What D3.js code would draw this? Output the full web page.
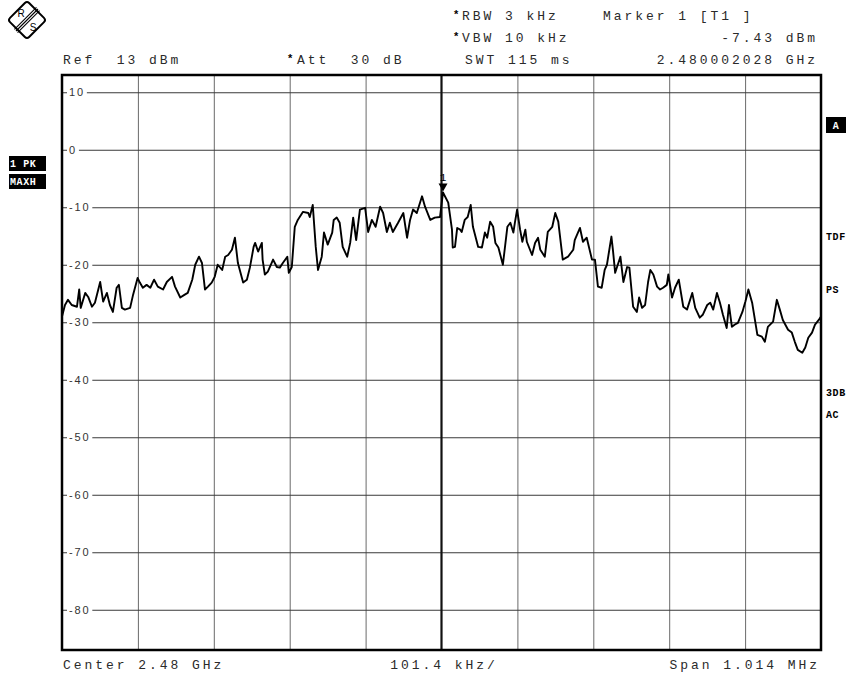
<!DOCTYPE html>
<html>
<head>
<meta charset="utf-8">
<script src="https://cdn.jsdelivr.net/npm/d3@7/dist/d3.min.js"></script>
<style>
  html, body { margin: 0; padding: 0; background: #fff; }
  svg { display: block; }
  text { white-space: pre; }
  .mono { font-family: "Liberation Mono", "Courier New", monospace; font-size: 13px; fill: #2a2a2a; letter-spacing: 2.95px; }
  .tick { font-family: "Liberation Sans", Arial, sans-serif; font-size: 11px; fill: #333; letter-spacing: 1.8px; }
  .side { font-family: "Liberation Mono", "Courier New", monospace; font-size: 10px; font-weight: bold; letter-spacing: 0.6px; }
</style>
</head>
<body>
<svg id="chart" width="851" height="676"></svg>
<script>
// ---- data (frequency offset from centre in kHz, level in dBm) ----
const traceFreq = [-507,-507,-503,-499,-494,-487,-484,-482,-476,-472,-467,-463,-456,-452,-447,-443,-439,-434,-431,-427,-423,-416,-412,-406,-403,-399,-394,-389,-384,-379,-372,-367,-360,-356,-349,-343,-339,-333,-329,-324,-320,-316,-312,-307,-303,-299,-293,-289,-285,-280,-276,-272,-265,-260,-256,-251,
-249,-245,-240,-239,-236,-232,-225,-220,-216,-212,-206,-204,-200,-196,-192,-185,-178,-176,-172,-168,-165,-160,-157,-152,-146,-144,-140,-136,-132,-126,-122,-118,-114,-109,-102,-98,-93,-88,-82,-78,-73,-69,-65,-58,-51,-46,-42,-38,-33,-26,-22,-15,-9,-2,2,
9,14,15,18,21,25,27,31,35,39,42,49,54,58,61,65,69,72,76,82,88,92,96,98,101,105,108,112,114,121,125,129,132,138,142,148,152,156,162,169,176,178,185,189,194,201,205,209,214,218,221,227,229,232,239,243,248,251,
256,261,264,268,272,276,279,283,288,292,296,301,303,308,312,317,323,328,335,339,345,349,355,359,363,368,372,376,381,384,388,392,396,402,406,410,415,422,428,432,436,443,448,452,456,463,468,472,476,482,486,490,495,499,504,507];

const traceLevel = [-21.2,-29.0,-27.0,-26.1,-27.0,-27.3,-24.3,-27.5,-24.9,-25.6,-27.3,-26.6,-23.0,-26.4,-24.9,-27.0,-28.2,-24.0,-23.5,-27.5,-27.8,-27.5,-25.2,-22.3,-23.1,-24.0,-23.5,-24.0,-22.6,-23.8,-24.3,-23.0,-22.1,-23.8,-25.7,-25.2,-24.9,-22.6,-20.0,-18.6,-19.7,-24.3,-23.8,-23.1,-22.1,-20.0,-20.9,-18.6,-18.3,-17.4,-15.3,-19.7,-23.1,-22.6,-20.5,-16.9,
-16.2,-17.7,-16.2,-19.1,-21.7,-21.2,-19.1,-20.4,-20.5,-19.7,-18.6,-21.4,-20.4,-13.4,-12.2,-10.8,-11.0,-11.7,-9.6,-16.9,-20.9,-18.6,-14.4,-16.5,-14.4,-12.2,-11.8,-12.7,-16.9,-18.6,-16.2,-11.8,-15.7,-10.4,-10.1,-14.3,-12.2,-13.4,-9.9,-11.0,-14.3,-12.7,-14.3,-12.7,-11.0,-15.3,-12.2,-10.4,-11.0,-8.1,-9.9,-12.2,-11.8,-11.7,-7.43,
-9.2,-13.9,-17.0,-16.9,-13.6,-13.9,-14.3,-12.2,-11.7,-9.6,-13.4,-16.9,-17.0,-14.4,-15.3,-12.5,-13.4,-16.2,-17.0,-20.0,-13.4,-12.7,-14.4,-12.7,-10.4,-13.9,-16.0,-13.9,-16.0,-18.3,-16.2,-15.3,-17.4,-18.6,-14.3,-13.4,-11.0,-12.5,-19.1,-18.6,-17.4,-15.7,-13.6,-16.0,-15.3,-19.1,-19.1,-23.8,-24.0,-20.9,-20.0,-15.1,-17.4,-21.4,-18.6,-23.0,-20.4,-20.5,
-27.3,-28.2,-25.7,-27.5,-27.0,-23.0,-20.9,-21.7,-23.8,-24.3,-24.0,-23.5,-21.7,-25.7,-24.0,-22.6,-27.3,-27.8,-24.9,-27.5,-29.2,-28.7,-27.0,-26.6,-27.8,-24.9,-26.6,-28.7,-31.0,-27.0,-30.8,-30.4,-30.1,-28.2,-26.4,-24.3,-26.6,-32.2,-32.5,-33.4,-30.8,-29.9,-26.1,-27.8,-29.6,-31.3,-31.8,-33.4,-34.8,-35.3,-34.4,-32.7,-31.8,-30.4,-29.6,-29.0];

const levelTicks = [10, 0, -10, -20, -30, -40, -50, -60, -70, -80];
const freqGrid = [-405.6, -304.2, -202.8, -101.4, 0, 101.4, 202.8, 304.2, 405.6];
const markerFreq = 2.028;
const markerLevel = -7.43;

const headerLeft = [
  { star: false, text: "Ref  13 dBm", x: 63 },
  { star: true,  text: "Att  30 dB", x: 297 }
];
const headerRight = [
  { star: true,  text: "RBW 3 kHz",  x: 462, line: 0 },
  { star: true,  text: "VBW 10 kHz", x: 462, line: 1 },
  { star: false, text: "SWT 115 ms", x: 465, line: 2 }
];
const markerInfo = ["Marker 1 [T1 ]", "-7.43 dBm", "2.480002028 GHz"];
const footer = ["Center 2.48 GHz", "101.4 kHz/", "Span 1.014 MHz"];
const leftBadges = ["1 PK", "MAXH"];
const rightLabels = [
  { text: "TDF", y: 240 },
  { text: "PS",  y: 293 },
  { text: "3DB", y: 396 },
  { text: "AC",  y: 418 }
];

// ---- layout ----
const svg = d3.select("#chart");
const L = 62, R = 821, T = 75, B = 650;

const x = d3.scaleLinear().domain([-507, 507]).range([L, R]);
const y = d3.scaleLinear().domain([13, -87]).range([T, B]);

// vertical grid via axis
svg.append("g")
  .attr("transform", `translate(0,${B})`)
  .call(d3.axisBottom(x).tickValues(freqGrid.filter(f => f !== 0)).tickSize(-(B - T)).tickFormat(""))
  .call(g => g.select(".domain").remove())
  .call(g => g.selectAll("line").attr("stroke", "#6a6a6a").attr("stroke-width", 1));

// horizontal grid via axis
svg.append("g")
  .attr("transform", `translate(${L},0)`)
  .call(d3.axisRight(y).tickValues(levelTicks).tickSize(R - L).tickFormat(""))
  .call(g => g.select(".domain").remove())
  .call(g => g.selectAll("line").attr("stroke", "#3a3a3a").attr("stroke-width", 1));

// tick labels with white background
const tl = svg.append("g").selectAll("g").data(levelTicks).join("g")
  .attr("transform", d => `translate(69,${y(d)})`);
tl.each(function(d) {
  const g = d3.select(this);
  const t = g.append("text").attr("class", "tick").attr("x", 0).attr("dy", "0.36em").text(d);
  const w = t.node().getComputedTextLength();
  g.insert("rect", "text").attr("x", -2).attr("y", -6).attr("width", w + 4).attr("height", 12).attr("fill", "#fff");
});

// centre line (heavy)
svg.append("line")
  .attr("x1", x(0)).attr("x2", x(0)).attr("y1", T).attr("y2", B)
  .attr("stroke", "#111").attr("stroke-width", 2.2);

// trace
svg.append("clipPath").attr("id", "clip").append("rect")
  .attr("x", L).attr("y", T).attr("width", R - L).attr("height", B - T);
const pts = traceFreq.map((f, i) => [f, traceLevel[i]]);
svg.append("path")
  .attr("clip-path", "url(#clip)")
  .attr("d", d3.line().x(d => x(d[0])).y(d => y(d[1]))(pts))
  .attr("fill", "none").attr("stroke", "#000").attr("stroke-width", 1.9)
  .attr("stroke-linejoin", "round");

// marker
const mx = x(markerFreq), my = y(markerLevel);
svg.append("path")
  .attr("d", `M${mx - 4.5},${my - 9} L${mx + 4.5},${my - 9} L${mx},${my - 1} Z`)
  .attr("fill", "#000");
svg.append("text").attr("x", mx).attr("y", my - 11).attr("text-anchor", "middle")
  .style("font-family", "Liberation Mono, monospace").style("font-size", "11px").attr("fill", "#000").text("1");

// frame
svg.append("rect").attr("x", L).attr("y", T).attr("width", R - L).attr("height", B - T)
  .attr("fill", "none").attr("stroke", "#000").attr("stroke-width", 2.5);

// header
const lineY = [20, 42, 64];
headerLeft.forEach(h => {
  if (h.star) svg.append("text").attr("x", h.x - 9).attr("y", lineY[2] - 2).attr("font-weight", "bold")
    .style("font-family", "Liberation Sans, Arial").style("font-size", "11px").attr("fill", "#000").text("*");
  svg.append("text").attr("class", "mono").attr("x", h.x).attr("y", lineY[2]).text(h.text);
});
headerRight.forEach(h => {
  if (h.star) svg.append("text").attr("x", h.x - 8).attr("y", lineY[h.line] - 2).attr("font-weight", "bold")
    .style("font-family", "Liberation Sans, Arial").style("font-size", "11px").attr("fill", "#000").text("*");
  svg.append("text").attr("class", "mono").attr("x", h.x).attr("y", lineY[h.line]).text(h.text);
});
svg.append("text").attr("class", "mono").attr("x", 603).attr("y", lineY[0]).text(markerInfo[0]);
svg.append("text").attr("class", "mono").attr("x", 818).attr("y", lineY[1]).attr("text-anchor", "end").text(markerInfo[1]);
svg.append("text").attr("class", "mono").attr("x", 818).attr("y", lineY[2]).attr("text-anchor", "end").text(markerInfo[2]);

// footer
svg.append("text").attr("class", "mono").attr("x", 63).attr("y", 669).text(footer[0]);
svg.append("text").attr("class", "mono").attr("x", 444).attr("y", 669).attr("text-anchor", "middle").text(footer[1]);
svg.append("text").attr("class", "mono").attr("x", 820).attr("y", 669).attr("text-anchor", "end").text(footer[2]);

// left badges
leftBadges.forEach((b, i) => {
  const by = 156 + i * 18;
  svg.append("rect").attr("x", 9).attr("y", by).attr("width", 37).attr("height", 15).attr("fill", "#000");
  svg.append("text").attr("class", "side").attr("x", 10).attr("y", by + 11).attr("fill", "#fff").text(b);
});

// right "A" badge and labels
svg.append("rect").attr("x", 826).attr("y", 117).attr("width", 20).attr("height", 16).attr("fill", "#000");
svg.append("text").attr("class", "side").attr("x", 836).attr("y", 129).attr("text-anchor", "middle").attr("fill", "#fff").text("A");
rightLabels.forEach(r => {
  svg.append("text").attr("class", "side").attr("x", 826).attr("y", r.y).attr("fill", "#000").text(r.text);
});

// logo
const logo = svg.append("g").attr("transform", "translate(27,20)");
logo.append("rect").attr("x", -13.5).attr("y", -13.5).attr("width", 27).attr("height", 27).attr("rx", 3)
  .attr("transform", "rotate(45)").attr("fill", "#fff").attr("stroke", "#000").attr("stroke-width", 2);
[-2.2, 0, 2.2].forEach(o => {
  logo.append("line").attr("x1", -11 + o * 0.707).attr("y1", 11 + o * 0.707).attr("x2", 11 + o * 0.707).attr("y2", -11 + o * 0.707)
    .attr("stroke", "#000").attr("stroke-width", 1.1);
});
logo.append("text").attr("x", -6).attr("y", -3).attr("text-anchor", "middle")
  .style("font-family", "Liberation Sans, Arial").style("font-size", "10px").text("R");
logo.append("text").attr("x", 6).attr("y", 11).attr("text-anchor", "middle")
  .style("font-family", "Liberation Sans, Arial").style("font-size", "10px").text("S");
</script>
</body>
</html>
